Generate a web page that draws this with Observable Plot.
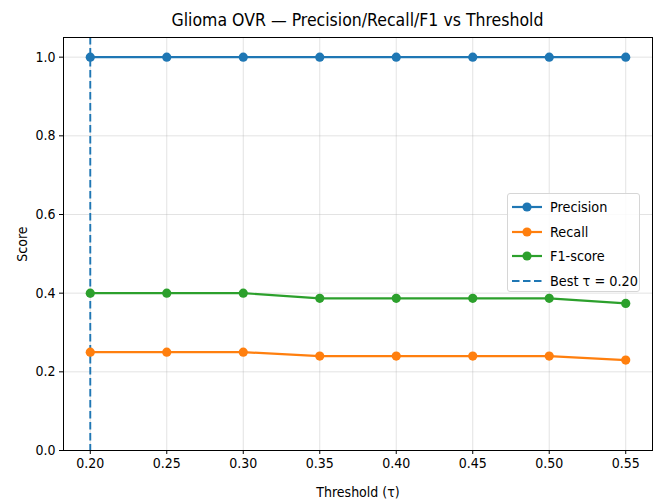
<!DOCTYPE html>
<html>
<head>
<meta charset="utf-8">
<script src="https://cdn.jsdelivr.net/npm/d3@7"></script>
<script src="https://cdn.jsdelivr.net/npm/@observablehq/plot@0.6"></script>
<style>
  html, body { margin: 0; padding: 0; background: #fff; }
  body { width: 656px; height: 502px; position: relative; overflow: hidden;
         font-family: "DejaVu Sans Condensed", "DejaVu Sans", sans-serif; font-stretch: condensed; }
  #title { position: absolute; left: 63px; width: 589px; top: 9px; text-align: center;
           font-size: 17.5px; line-height: 22px; color: #000; white-space: nowrap; }
  #chart { position: absolute; left: 0; top: 30px; }
  #legend { position: absolute; left: 507px; top: 193px; width: 133px; height: 99px;
            border: 1px solid #d6d6d6; border-radius: 3px; background: rgba(255,255,255,0.85);
            box-sizing: border-box; padding-top: 1px; }
  .row { height: 24.5px; display: flex; align-items: center; font-size: 14.3px; color: #000; white-space: nowrap; }
  .row svg { margin-left: 4px; margin-right: 8px; flex: none; }
</style>
</head>
<body>
<div id="title">Glioma OVR — Precision/Recall/F1 vs Threshold</div>
<div id="chart"></div>
<div id="legend"></div>
<script>
const thresholds = [0.20, 0.25, 0.30, 0.35, 0.40, 0.45, 0.50, 0.55];
const precision = [1.0, 1.0, 1.0, 1.0, 1.0, 1.0, 1.0, 1.0];
const recall = [0.25, 0.25, 0.25, 0.24, 0.24, 0.24, 0.24, 0.23];
const f1 = [0.40, 0.40, 0.40, 0.387, 0.387, 0.387, 0.387, 0.374];
const seriesNames = ["Precision", "Recall", "F1-score"];
const seriesColors = ["#1f77b4", "#ff7f0e", "#2ca02c"];
const bestTau = 0.20;
const bestLabel = "Best τ = 0.20";
const yTicks = [0.0, 0.2, 0.4, 0.6, 0.8, 1.0];

const seriesValues = [precision, recall, f1];
const rows = [];
seriesNames.forEach((name, i) => {
  thresholds.forEach((t, j) => rows.push({series: name, t, v: seriesValues[i][j]}));
});

const font = '"DejaVu Sans Condensed", "DejaVu Sans", sans-serif';

const chart = Plot.plot({
  width: 656,
  height: 472,
  marginLeft: 63,
  marginRight: 4,
  marginTop: 7,
  marginBottom: 52,
  style: {fontFamily: font, fontSize: "14px", color: "#000", background: "transparent", overflow: "visible", fontStretch: "condensed"},
  x: {domain: [0.1825, 0.5675]},
  y: {domain: [0, 1.05]},
  color: {domain: seriesNames, range: seriesColors},
  marks: [
    Plot.gridX(thresholds, {stroke: "#b0b0b0", strokeOpacity: 0.35, strokeWidth: 1}),
    Plot.gridY(yTicks, {stroke: "#b0b0b0", strokeOpacity: 0.35, strokeWidth: 1}),
    Plot.axisX(thresholds, {tickFormat: d3.format(".2f"), tickSize: 4, tickPadding: 4, stroke: "#000",
      label: "Threshold (τ)", labelAnchor: "center", labelArrow: "none", labelOffset: 46, fontSize: 14}),
    Plot.axisY(yTicks, {tickFormat: d3.format(".1f"), tickSize: 4, tickPadding: 4, stroke: "#000",
      label: "Score", labelAnchor: "center", labelArrow: "none", labelOffset: 46, fontSize: 14}),
    Plot.ruleX([bestTau], {stroke: "#1f77b4", strokeWidth: 1.9, strokeDasharray: "7.5,3.5"}),
    Plot.line(rows, {x: "t", y: "v", z: "series", stroke: "series", strokeWidth: 2.2}),
    Plot.dot(rows, {x: "t", y: "v", fill: "series", r: 4.6, stroke: "none"}),
    Plot.frame({stroke: "#000", strokeWidth: 1})
  ]
});
document.getElementById("chart").appendChild(chart);

// legend
const legend = d3.select("#legend");
const entries = seriesNames.map((n, i) => ({name: n, color: seriesColors[i], dashed: false}))
  .concat([{name: bestLabel, color: "#1f77b4", dashed: true}]);
entries.forEach(e => {
  const row = legend.append("div").attr("class", "row");
  const s = row.append("svg").attr("width", 30).attr("height", 12);
  s.append("line").attr("x1", 0).attr("x2", 30).attr("y1", 6).attr("y2", 6)
    .attr("stroke", e.color).attr("stroke-width", e.dashed ? 1.9 : 2.2)
    .attr("stroke-dasharray", e.dashed ? "7.5,3.5" : null);
  if (!e.dashed) s.append("circle").attr("cx", 15).attr("cy", 6).attr("r", 4.6).attr("fill", e.color);
  row.append("span").text(e.name);
});
</script>
</body>
</html>
